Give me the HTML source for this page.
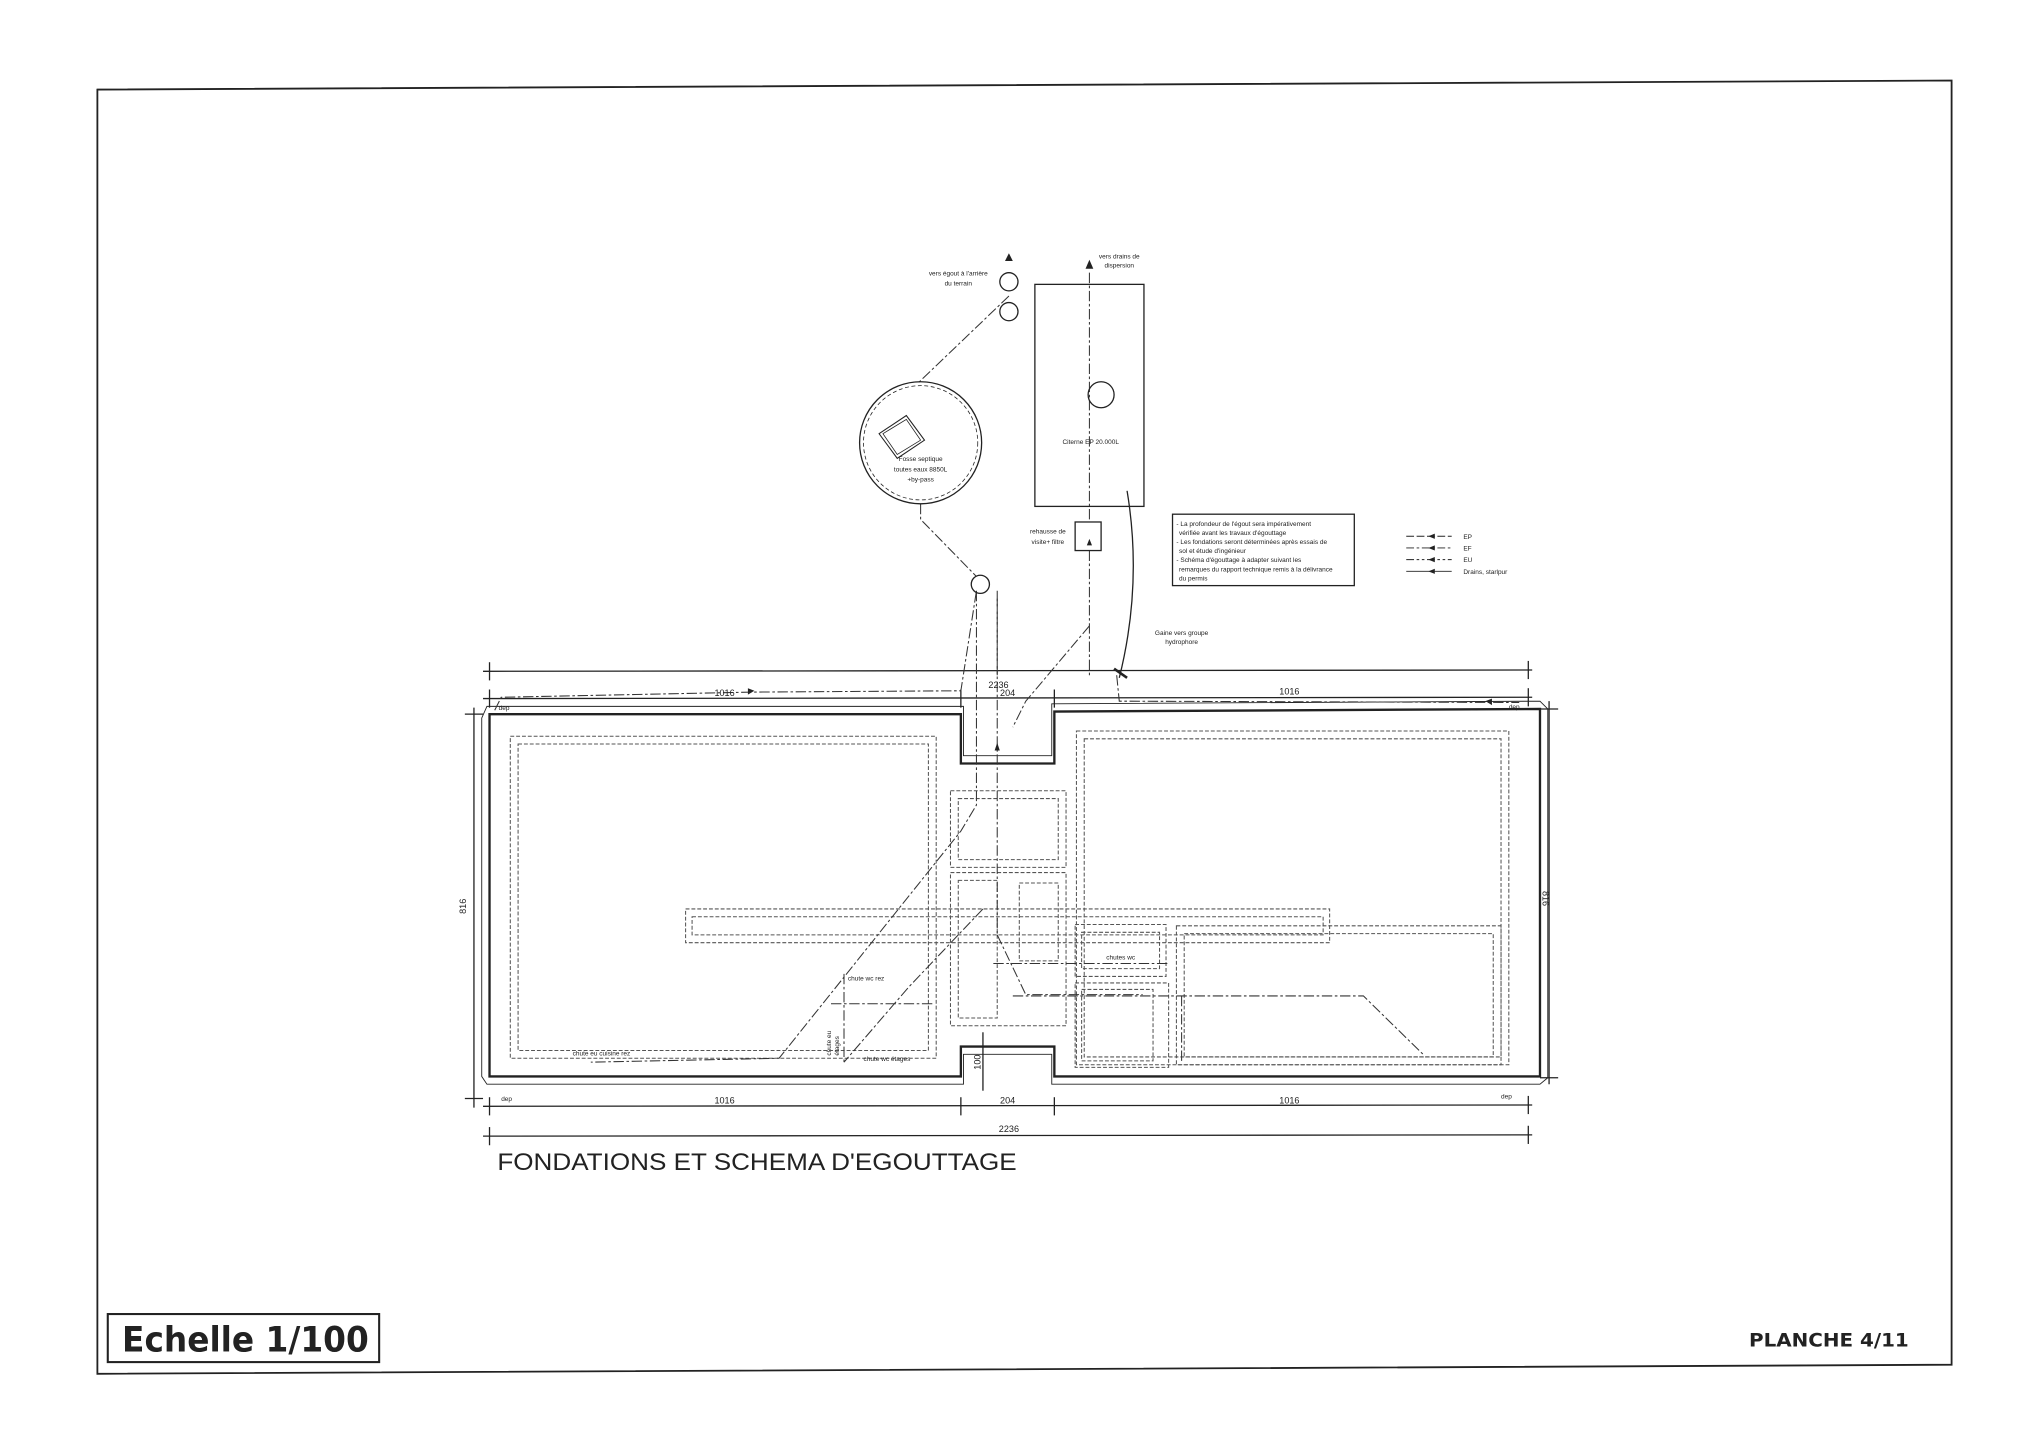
<!DOCTYPE html>
<html><head><meta charset="utf-8"><style>
html,body{margin:0;padding:0;background:#fff;}
svg{display:block}
text{font-family:"Liberation Sans",sans-serif;fill:#222}
</style></head><body>
<svg width="2036" height="1440" viewBox="0 0 1568 1109" preserveAspectRatio="none" xmlns="http://www.w3.org/2000/svg">
<g fill="none" stroke="#222">
<!-- frame -->
<polygon points="75,69 1503,62 1503,1051 75,1058" stroke-width="1.4"/>
<rect x="83" y="1012" width="209" height="37" stroke-width="1.6"/>

<!-- dimension lines -->
<g stroke-width="1">
<line x1="372" y1="517" x2="1180" y2="516"/>
<line x1="377" y1="510" x2="377" y2="524"/><line x1="1177" y1="509" x2="1177" y2="523"/>
<line x1="372" y1="538" x2="1180" y2="537"/>
<line x1="377" y1="531" x2="377" y2="545"/><line x1="740" y1="531" x2="740" y2="545"/><line x1="812" y1="531" x2="812" y2="545"/><line x1="1177" y1="530" x2="1177" y2="544"/>
<line x1="372" y1="852" x2="1180" y2="851"/>
<line x1="377" y1="845" x2="377" y2="859"/><line x1="740" y1="845" x2="740" y2="859"/><line x1="812" y1="845" x2="812" y2="859"/><line x1="1177" y1="844" x2="1177" y2="858"/>
<line x1="372" y1="875" x2="1180" y2="874"/>
<line x1="377" y1="868" x2="377" y2="882"/><line x1="1177" y1="867" x2="1177" y2="881"/>
<line x1="365" y1="545" x2="365" y2="853"/>
<line x1="358" y1="550" x2="372" y2="550"/><line x1="358" y1="846" x2="372" y2="846"/>
<line x1="1193" y1="540" x2="1193" y2="835"/>
<line x1="1186" y1="546" x2="1200" y2="546"/><line x1="1186" y1="830" x2="1200" y2="830"/>
<line x1="757" y1="795" x2="757" y2="840"/>
</g>

<!-- building outline -->
<polygon points="377,550 740,550 740,588 812,588 812,548 1186,546 1186,829 812,829 812,806 740,806 740,829 377,829" stroke-width="1.8"/>
<polygon points="371,553 375,544 742,544 742,582 810,582 810,542 1186,540 1192,546 1192,830 1186,835 810,835 810,812 742,812 742,835 375,835 371,829" stroke-width="0.7"/>

<!-- rooms dashed -->
<g stroke-dasharray="3,1.5" stroke-width="0.8" stroke="#555">
<rect x="393" y="567" width="328" height="248"/>
<rect x="399" y="573" width="316" height="236"/>
<rect x="829" y="563" width="333" height="257"/>
<rect x="835" y="569" width="321" height="245"/>
<rect x="528" y="700" width="496" height="26"/>
<rect x="533" y="706" width="486" height="14"/>
<rect x="732" y="609" width="89" height="59"/>
<rect x="738" y="615" width="77" height="47"/>
<rect x="732" y="672" width="89" height="118"/>
<rect x="738" y="678" width="30" height="106"/>
<rect x="785" y="680" width="30" height="60"/>
<rect x="828" y="712" width="70" height="40"/>
<rect x="833" y="718" width="60" height="28"/>
<rect x="828" y="757" width="72" height="65"/>
<rect x="833" y="762" width="55" height="55"/>
<rect x="906" y="713" width="250" height="107"/>
<rect x="912" y="719" width="238" height="95"/>
</g>

<!-- piping -->
<g stroke-dasharray="8,2,2,2" stroke-width="0.8" stroke="#333">
<polyline points="381,547 386,537 580,533 740,532 752,455"/>
<line x1="768" y1="455" x2="768" y2="720"/>
<polyline points="752,455 752,620 740,640 600,815 455,818"/>
<polyline points="768,720 790,766 880,766"/>
<polyline points="780,767 905,767 1050,767 1096,812"/>
<polyline points="910,767 910,818"/>
<polyline points="757,700 700,760 650,818"/>
<line x1="650" y1="750" x2="650" y2="818"/>
<line x1="640" y1="773" x2="720" y2="773"/>
<line x1="765" y1="742" x2="900" y2="742"/>
<polyline points="839,210 839,402"/>
<line x1="839" y1="424" x2="839" y2="520"/>
<polyline points="839,482 790,540 780,560"/>
<polyline points="860,520 862,540 1170,541"/>
<polyline points="777,228 707,295"/>
<polyline points="709,388 709,400 752,444"/>
<line x1="768" y1="461" x2="768" y2="520"/>
</g>
<path d="M868,378 Q880,450 862,522" stroke-width="1"/>
<line x1="858" y1="515" x2="868" y2="522" stroke-width="2"/>

<!-- septic -->
<circle cx="709" cy="341" r="47" stroke-width="1"/>
<circle cx="709" cy="341" r="44" stroke-width="0.6" stroke-dasharray="3,2"/>
<polygon points="677,334 698,320 712,339 691,353" stroke-width="0.8"/>
<polygon points="680,334 698,323 709,339 691,350" stroke-width="0.6"/>
<circle cx="777" cy="217" r="7"/><circle cx="777" cy="240" r="7"/>
<circle cx="755" cy="450" r="7"/>

<!-- cistern -->
<rect x="797" y="219" width="84" height="171" stroke-width="1"/>
<circle cx="848" cy="304" r="10"/>
<rect x="828" y="402" width="20" height="22"/>

<!-- notes -->
<rect x="903" y="396" width="140" height="55" stroke-width="1"/>
<g stroke-width="0.7">
<line x1="1083" y1="413" x2="1118" y2="413" stroke-dasharray="6,2"/>
<line x1="1083" y1="422" x2="1118" y2="422" stroke-dasharray="6,2,2,2"/>
<line x1="1083" y1="431" x2="1118" y2="431" stroke-dasharray="6,2,2,2,2,2"/>
<line x1="1083" y1="440" x2="1118" y2="440"/>
</g>
</g>
<g fill="#222">
<polygon points="777,195 774,201 780,201"/>
<polygon points="839,200 836,207 842,207"/>
<polygon points="839,415 837,420 841,420"/>
<polygon points="768,572 766,578 770,578"/>
<polygon points="581,532 576,530 576,535"/>
<polygon points="1144,540 1149,538 1149,543"/>
<polygon points="1100,413 1105,411 1105,415"/>
<polygon points="1100,422 1105,420 1105,424"/>
<polygon points="1100,431 1105,429 1105,433"/>
<polygon points="1100,440 1105,438 1105,442"/>
</g>

<!-- texts -->
<g font-size="7">
<text x="769" y="530" text-anchor="middle">2236</text>
<text x="558" y="536" text-anchor="middle">1016</text>
<text x="776" y="536" text-anchor="middle">204</text>
<text x="993" y="535" text-anchor="middle">1016</text>
<text x="558" y="850" text-anchor="middle">1016</text>
<text x="776" y="850" text-anchor="middle">204</text>
<text x="993" y="850" text-anchor="middle">1016</text>
<text x="777" y="872" text-anchor="middle">2236</text>
<text transform="translate(359,698) rotate(-90)" text-anchor="middle">816</text>
<text transform="translate(1188,692) rotate(90)" text-anchor="middle">816</text>
<text transform="translate(755,818) rotate(-90)" text-anchor="middle">100</text>
</g>
<g font-size="5">
<text x="384" y="547">dep</text><text x="1162" y="546">dep</text>
<text x="386" y="848">dep</text><text x="1156" y="846">dep</text>
<text x="738" y="212" text-anchor="middle">vers égout à l'arrière</text>
<text x="738" y="220" text-anchor="middle">du terrain</text>
<text x="862" y="199" text-anchor="middle">vers drains de</text>
<text x="862" y="206" text-anchor="middle">dispersion</text>
<text x="709" y="355" text-anchor="middle">Fosse septique</text>
<text x="709" y="363" text-anchor="middle">toutes eaux 8850L</text>
<text x="709" y="371" text-anchor="middle">+by-pass</text>
<text x="840" y="342" text-anchor="middle">Citerne EP 20.000L</text>
<text x="807" y="411" text-anchor="middle">rehausse de</text>
<text x="807" y="419" text-anchor="middle">visite+ filtre</text>
<text x="910" y="489" text-anchor="middle">Gaine vers groupe</text>
<text x="910" y="496" text-anchor="middle">hydrophore</text>
<text x="906" y="405">- La profondeur de l'égout sera impérativement</text>
<text x="908" y="412">vérifiée avant les travaux d'égouttage</text>
<text x="906" y="419">- Les fondations seront déterminées après essais de</text>
<text x="908" y="426">sol et étude d'ingénieur</text>
<text x="906" y="433">- Schéma d'égouttage à adapter suivant les</text>
<text x="908" y="440">remarques du rapport technique remis à la délivrance</text>
<text x="908" y="447">du permis</text>
<text x="1127" y="415">EP</text><text x="1127" y="424">EF</text><text x="1127" y="433">EU</text><text x="1127" y="442">Drains, starlpur</text>
<text x="441" y="813">chute eu cuisine rez</text>
<text x="653" y="755">chute wc rez</text>
<text x="665" y="817">chute wc étages</text>
<text x="852" y="739">chutes wc</text>
<text transform="translate(640,813) rotate(-90)">chute eu</text>
<text transform="translate(646,813) rotate(-90)">étages</text>
</g>
<text x="383" y="901" font-size="18.5" textLength="400" lengthAdjust="spacingAndGlyphs">FONDATIONS ET SCHEMA D'EGOUTTAGE</text>
<text x="94" y="1041" font-size="27" font-weight="bold" fill="#333" textLength="190" lengthAdjust="spacingAndGlyphs" style="font-family:'DejaVu Sans Condensed','DejaVu Sans',sans-serif">Echelle 1/100</text>
<text x="1347" y="1037" font-size="14.5" font-weight="bold" fill="#333" textLength="123" lengthAdjust="spacingAndGlyphs" style="font-family:'DejaVu Sans Condensed','DejaVu Sans',sans-serif">PLANCHE 4/11</text>
</svg>
</body></html>
